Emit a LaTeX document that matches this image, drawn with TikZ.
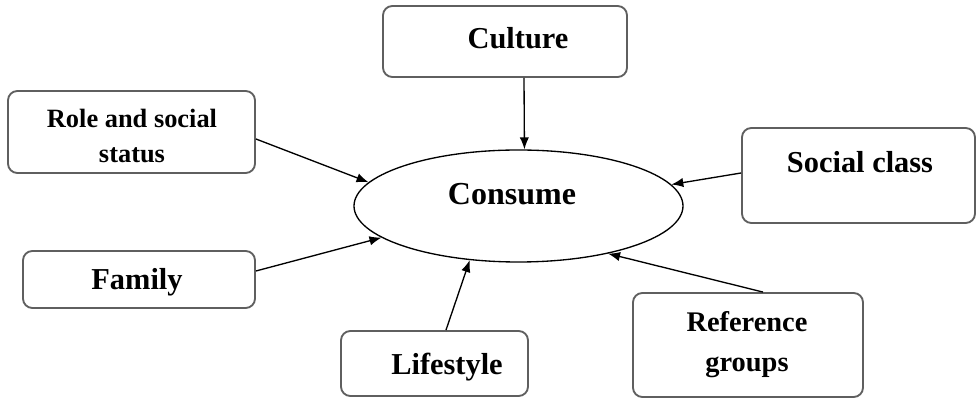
\documentclass[tikz,border=0pt]{standalone}
\usepackage{fontspec}
\setmainfont{Liberation Serif}
\usetikzlibrary{shapes.geometric,arrows.meta,calc}
\definecolor{boxgray}{RGB}{95,95,95}
\begin{document}
\begin{tikzpicture}[x=0.75pt,y=-0.75pt,
  box/.style={draw=boxgray,line width=1.4pt,rounded corners=7pt,inner sep=0pt},
  ell/.style={draw=black,line width=1pt,ellipse,inner sep=0pt},
  lbl/.style={inner sep=0pt,align=center,font=\bfseries\fontsize{22.8}{26}\selectfont},
  conn/.style={draw=black,line width=1pt,-{Latex[length=9pt,width=7pt]}}]
\useasboundingbox (0,0) rectangle (976,398);
% boxes
\node[box,minimum width=183pt,minimum height=53.25pt] (cul) at (505,41.5) {};
\node[box,minimum width=185.25pt,minimum height=61.5pt] (role) at (131.5,132) {};
\node[box,minimum width=174.75pt,minimum height=71.25pt] (soc) at (858.5,175.5) {};
\node[box,minimum width=174pt,minimum height=42.75pt] (fam) at (139,279.5) {};
\node[box,minimum width=140.25pt,minimum height=48.75pt] (lif) at (434.5,363.5) {};
\node[box,minimum width=172.5pt,minimum height=78pt] (ref) at (748,345) {};
\node[ell,minimum width=246.75pt,minimum height=84pt] (con) at (518.5,206) {};
% texts
\node[lbl] (tcul) at (518,38) {Culture};
\node[lbl,font=\bfseries\fontsize{19.8}{26}\selectfont] (trole) at (132,136) {Role and social\\status};
\node[lbl] (tsoc) at (860,162) {Social class};
\node[lbl] (tfam) at (137,282) {Family};
\node[lbl] (tlif) at (447,367) {Lifestyle};
\node[lbl,font=\bfseries\fontsize{21.3}{30}\selectfont] (tref) at (747,345) {Reference\\groups};
\node[lbl,font=\bfseries\fontsize{24}{28}\selectfont] (tcon) at (512,194) {Consume};
% connectors
\draw[conn] ($(cul.south)+(19,0)$) -- (con.84.4);
\draw[conn] ($(role.east)+(0,7)$) -- (con.171.7);
\draw[conn] ($(soc.west)+(0,-2.5)$) -- (con.8.8);
\draw[conn] ($(fam.east)+(0,-8.5)$) -- (con.193.7);
\draw[conn] ($(lif.north)+(11.5,0)$) -- (con.228.4);
\draw[conn] ($(ref.north)+(15,0)$) -- (con.332.6);
\end{tikzpicture}
\end{document}
